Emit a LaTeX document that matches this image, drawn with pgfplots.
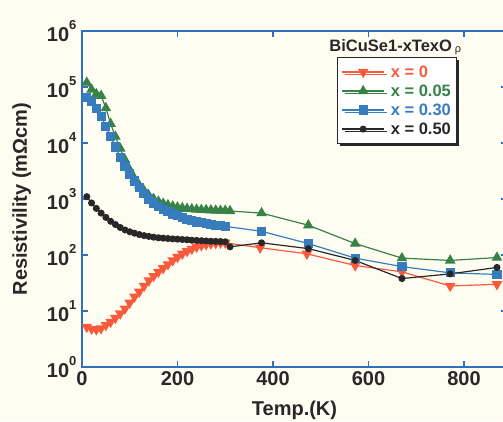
\documentclass[border=0pt]{standalone}
\usepackage{pgfplots}
\pgfplotsset{compat=1.18}
\usepackage{fontspec}
\setmainfont{Liberation Sans}
\usetikzlibrary{shadows}
\definecolor{axblue}{RGB}{50,110,190}
\definecolor{sred}{RGB}{250,90,60}
\definecolor{sgreen}{RGB}{55,130,70}
\definecolor{sblue}{RGB}{55,125,190}
\definecolor{sblack}{RGB}{40,40,40}
\definecolor{bg}{RGB}{255,253,242}
\newcommand{\dec}[1]{10\raisebox{0.62em}{\fontsize{13}{13}\selectfont #1}}
\begin{document}
\begin{tikzpicture}
\fill[bg] (-82pt,-54pt) rectangle (421pt,367pt);
\begin{axis}[
  at={(0pt,0pt)}, anchor=south west,
  scale only axis, width=425pt, height=336pt,
  xmin=0, xmax=890, ymin=1, ymax=1e6, ymode=log,
  xtick={0,200,400,600,800},
  xticklabels={0,200,400,600,800},
  ytick={1,10,100,1000,10000,100000,1000000},
  yticklabels={\dec{0},\dec{1},\dec{2},\dec{3},\dec{4},\dec{5},\dec{6}},
  yminorticks=false, xminorticks=false,
  tick align=inside, major tick length=6pt,
  axis line style={axblue, line width=1.3pt},
  tick style={axblue, line width=1.3pt},
  ticklabel style={font=\fontsize{20}{20}\selectfont\bfseries, text=sblack},
  xticklabel style={yshift=-1pt},
  yticklabel style={xshift=-2pt},
  xlabel={Temp.(K)}, ylabel={Resistivility (mΩcm)},
  label style={font=\fontsize{20}{20}\selectfont\bfseries, text=sblack},
  xlabel style={at={(axis description cs:0.5,-0.128)}, anchor=center},
  ylabel style={at={(axis description cs:-0.142,0.5)}, anchor=center},
  legend cell align=left,
  legend style={at={(axis description cs:0.6,0.9226)}, anchor=north west,
    draw=sblack, line width=1pt, fill=white,
    drop shadow={shadow xshift=2.5pt, shadow yshift=-2.5pt, fill=sblack, opacity=1},
    font=\fontsize{16.5}{17}\selectfont\bfseries,
    row sep=2pt, inner xsep=4pt, inner ysep=6pt},
  legend image code/.code={\draw[mark repeat=2,mark phase=2,#1] plot coordinates {(0cm,0cm) (0.74cm,0cm) (1.48cm,0cm)};},
  clip=false,
]
\addplot[sred, line width=1.2pt, mark=triangle*, mark size=5pt, mark options={rotate=180}] coordinates {
(10,5.2)(20,4.8)(30,4.7)(40,4.9)(50,5.6)(60,6.4)(70,7.5)(80,9)(90,11)(100,14)
(110,18)(120,22)(130,28)(140,35)(150,42)(160,50)(170,58)(180,68)(190,80)(200,92)
(210,105)(220,117)(230,128)(240,140)(250,148)(260,155)(270,160)(280,163)(290,165)(300,165)
(373,135)(471,105)(572,65)(670,50)(771,28)(869,30)};
\addlegendentry{\hspace{4pt}\textcolor{sred}{x = 0}}
\addplot[sgreen, line width=1.2pt, mark=triangle*, mark size=5pt] coordinates {
(10,1.2e5)(20,9e4)(30,7.5e4)(40,7e4)(50,4.2e4)(60,2.2e4)(70,1.3e4)(80,8e3)(90,5e3)(100,3.3e3)
(110,2.3e3)(120,1.75e3)(130,1.4e3)(140,1.15e3)(150,1e3)(160,900)(170,830)(180,780)(190,740)(200,710)
(210,690)(220,670)(230,660)(240,650)(250,640)(260,635)(270,630)(280,625)(290,620)(300,620)(310,610)
(376,560)(474,340)(572,160)(670,88)(771,80)(869,90)};
\addlegendentry{\hspace{4pt}\textcolor{sgreen}{x = 0.05}}
\addplot[sblue, line width=1.2pt, mark=square*, mark size=4pt] coordinates {
(10,6.5e4)(20,5.5e4)(30,4.2e4)(40,3e4)(50,2e4)(60,1.3e4)(70,8.5e3)(80,5.6e3)(90,3.9e3)(100,2.8e3)
(110,2.1e3)(120,1.6e3)(130,1.25e3)(140,1e3)(150,850)(160,740)(170,660)(180,590)(190,540)(200,500)
(210,465)(220,435)(230,410)(240,390)(250,375)(260,360)(270,350)(280,340)(290,332)(300,325)
(376,265)(474,160)(572,88)(670,62)(771,48)(869,45)};
\addlegendentry{\hspace{4pt}\textcolor{sblue}{x = 0.30}}
\addplot[sblack, line width=1.2pt, mark=*, mark size=2.9pt] coordinates {
(10,1100)(20,850)(30,680)(40,560)(50,470)(60,400)(70,350)(80,310)(90,280)(100,260)
(110,245)(120,232)(130,222)(140,215)(150,208)(160,203)(170,200)(180,197)(190,194)(200,192)
(210,189)(220,187)(230,184)(240,182)(250,180)(260,178)(270,176)(280,175)(290,174)(300,172)
(310,140)(376,165)(474,130)(572,80)(670,38)(771,46)(869,60)};
\addlegendentry{\hspace{4pt}\textcolor{sblack}{x = 0.50}}
\node[font=\fontsize{16.5}{17}\selectfont\bfseries, text=sblack, anchor=center] at (axis description cs:0.737,0.952) {BiCuSe1-xTexO\,{\fontsize{11}{11}\selectfont\mdseries\raisebox{-0.3ex}{ρ}}};
\end{axis}
\pgfresetboundingbox
\useasboundingbox (-82pt,-54pt) rectangle (421pt,367pt);
\end{tikzpicture}
\end{document}
